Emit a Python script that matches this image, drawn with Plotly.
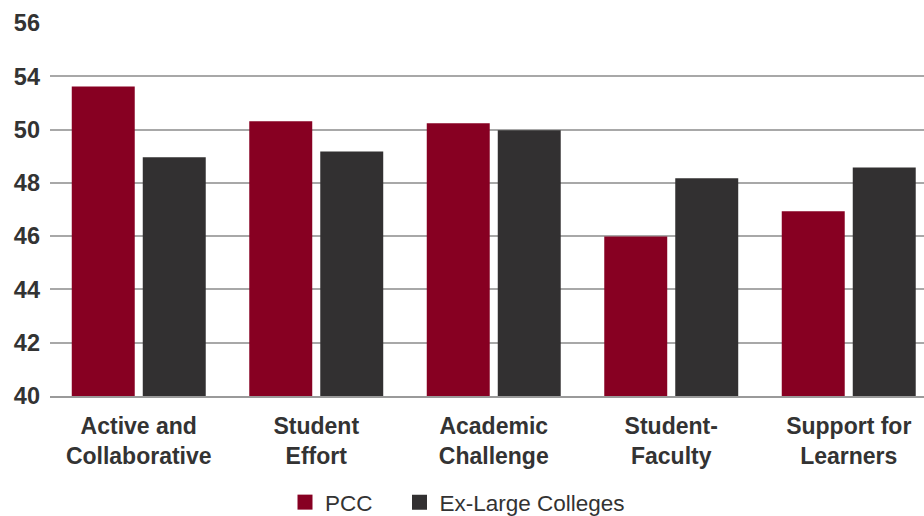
import plotly.graph_objects as go

categories = ["Active and<br>Collaborative", "Student<br>Effort", "Academic<br>Challenge",
              "Student-<br>Faculty", "Support for<br>Learners"]
pcc = [51.62, 50.31, 50.24, 45.99, 46.93]
exlarge = [48.96, 49.18, 49.97, 48.17, 48.58]
series_names = ["PCC", "Ex-Large Colleges"]
series_colors = ["#870022", "#323031"]
tick_vals = [40, 42, 44, 46, 48, 50, 52, 54]
tick_text = ["40", "42", "44", "46", "48", "50", "54", "56"]

FONT = "Liberation Sans, Arial, Helvetica, sans-serif"

fig = go.Figure()
for name, vals, col in zip(series_names, [pcc, exlarge], series_colors):
    fig.add_trace(go.Bar(x=categories, y=vals, name=name, marker_color=col,
                         marker_line_width=0, showlegend=False))
# legend entries with larger square swatches, one legend per entry
for i, (name, col) in enumerate(zip(series_names, series_colors)):
    fig.add_trace(go.Scatter(x=[None], y=[None], mode="markers", name=name,
                             legend="legend" if i == 0 else "legend2",
                             marker=dict(symbol="square", size=15, color=col)))

leg_common = dict(orientation="h", xref="container", xanchor="left",
                  yref="container", y=1 - 502.5 / 516, yanchor="middle",
                  font=dict(size=22.5, color="#333333"), bgcolor="rgba(0,0,0,0)")
fig.update_layout(
    width=924, height=516,
    margin=dict(l=50, r=0, t=23, b=120, pad=0),
    paper_bgcolor="white", plot_bgcolor="white",
    barmode="group", bargap=0.2, bargroupgap=0.113,
    font=dict(family=FONT, color="#333333", size=23),
    legend=dict(x=285 / 924, **leg_common),
    legend2=dict(x=399.5 / 924, **leg_common),
    showlegend=True,
)
fig.update_xaxes(range=[-0.5, 4.424], showgrid=False, showline=True,
                 linecolor="#9a9a9a", linewidth=2, ticks="", automargin=False,
                 tickfont=dict(size=23, family=FONT, color="#333333", weight="bold"),
                 ticklabelstandoff=8, fixedrange=True)
fig.update_yaxes(range=[40, 54], tickvals=tick_vals, ticktext=tick_text,
                 showgrid=True, gridcolor="#a8a8a8", gridwidth=1.5, automargin=False,
                 zeroline=False, ticks="", ticklabelstandoff=9, fixedrange=True,
                 tickfont=dict(size=23.5, family=FONT, color="#333333", weight="bold"))

fig.write_html("out.html", config={"displayModeBar": False},
               post_script="document.body.style.margin='0';document.body.style.padding='0';"
                           "document.body.style.overflow='hidden';")
